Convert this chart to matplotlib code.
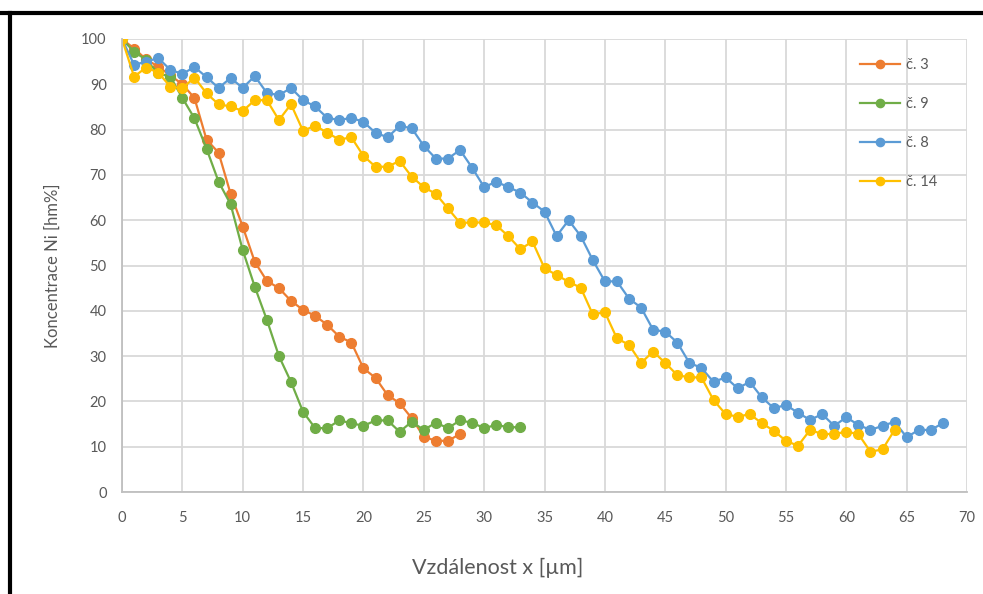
import matplotlib
matplotlib.use("Agg")
import matplotlib.pyplot as plt
from matplotlib.lines import Line2D

# distance [um] and Ni concentration [hm%]
x_c3 = list(range(0, 29))
ni_c3 = [100, 97.9, 95.5, 93.9, 92, 90, 87, 77.8, 74.9, 65.8,
         58.6, 50.8, 46.6, 45, 42.2, 40.2, 38.9, 36.9, 34.3, 33,
         27.3, 25.2, 21.4, 19.6, 16.3, 12.2, 11.3, 11.3, 12.8]

x_c9 = list(range(0, 34))
ni_c9 = [100, 97.2, 95.4, 92.4, 91.7, 87, 82.5, 75.8, 68.5, 63.5,
         53.4, 45.3, 38, 30, 24.3, 17.7, 14.1, 14.1, 15.8, 15.2,
         14.6, 15.8, 15.8, 13.3, 15.5, 13.7, 15.3, 14.1, 15.8, 15.3,
         14.1, 14.8, 14.3, 14.3]

x_c8 = list(range(0, 69))
ni_c8 = [100, 94.3, 95, 95.8, 93.2, 92.3, 93.8, 91.6, 89.2, 91.4,
         89.2, 91.8, 88.1, 87.6, 89.2, 86.5, 85.1, 82.6, 82.1, 82.6,
         81.7, 79.3, 78.3, 80.8, 80.3, 76.4, 73.6, 73.6, 75.5, 71.6,
         67.3, 68.5, 67.3, 66.1, 63.9, 61.9, 56.5, 60, 56.5, 51.2,
         46.5, 46.5, 42.7, 40.7, 35.8, 35.4, 33, 28.5, 27.4, 24.3,
         25.3, 22.9, 24.3, 20.9, 18.5, 19.2, 17.5, 15.9, 17.2, 14.6,
         16.5, 14.8, 13.7, 14.6, 15.5, 12.1, 13.7, 13.7, 15.2]

x_c14 = list(range(0, 65))
ni_c14 = [100, 91.7, 93.7, 92.6, 89.5, 89.1, 91.5, 88, 85.6, 85.1,
          84.1, 86.5, 86.5, 82.1, 85.6, 79.7, 80.9, 79.3, 77.8, 78.3,
          74.2, 71.8, 71.8, 73.1, 69.6, 67.3, 65.8, 62.6, 59.4, 59.5,
          59.5, 58.9, 56.5, 53.6, 55.3, 49.4, 47.9, 46.4, 45.1, 39.2,
          39.7, 33.9, 32.5, 28.5, 31, 28.5, 25.8, 25.3, 25.3, 20.3,
          17.2, 16.6, 17.2, 15.2, 13.5, 11.3, 10.2, 13.7, 12.8, 12.8,
          13.3, 12.8, 8.9, 9.4, 13.7]

series = [
    ("č. 3", x_c3, ni_c3, "#ED7D31"),
    ("č. 9", x_c9, ni_c9, "#70AD47"),
    ("č. 8", x_c8, ni_c8, "#5B9BD5"),
    ("č. 14", x_c14, ni_c14, "#FFC000"),
]

grey = "#595959"
grid = "#d9d9d9"
plt.rcParams["font.family"] = ["Lato", "DejaVu Sans"]

fig = plt.figure(figsize=(9.83, 5.94), dpi=100)
ax = fig.add_axes([122 / 983, 1 - 492 / 594, (967 - 122) / 983, (492 - 39) / 594])

for label, xs, ys, col in series:
    ax.plot(xs, ys, color=col, lw=1.6, marker="o", ms=7, mec=col, label=label)

ax.set_xlim(0, 70)
ax.set_ylim(0, 100)
ax.set_xticks(range(0, 71, 5))
ax.set_yticks(range(0, 101, 10))
ax.grid(True, color=grid, lw=1.3)
ax.set_axisbelow(True)
for side in ["top", "right"]:
    ax.spines[side].set_visible(False)
for side in ["left", "bottom"]:
    ax.spines[side].set_color("#bfbfbf")
    ax.spines[side].set_linewidth(1.3)
ax.tick_params(length=0, colors=grey, labelsize=10.5)
ax.tick_params(axis="y", pad=11)
ax.tick_params(axis="x", pad=14)

ax.set_xlabel("Vzdálenost x [µm]", fontsize=15.5, color=grey)
ax.xaxis.set_label_coords((498 - 122) / 845, -(568 - 492) / 453, transform=ax.transAxes)
ax.xaxis.label.set_va("center")
ax.set_ylabel("Koncentrace Ni [hm%]", fontsize=12, color=grey)
ax.yaxis.set_label_coords(-(122 - 53) / 845, 0.5, transform=ax.transAxes)
ax.yaxis.label.set_va("center")

leg = ax.legend(loc="upper left", bbox_to_anchor=(738 / 845, 1 - 19 / 453),
                frameon=False, fontsize=10.5, labelcolor=grey, handlelength=2.75,
                handletextpad=0.4, labelspacing=1.72, borderpad=0, borderaxespad=0,
                markerscale=0.85)

# black frame lines at the top and left of the picture
fig.add_artist(Line2D([0, 1], [1 - 13 / 594] * 2, color="black", lw=3))
fig.add_artist(Line2D([10 / 983] * 2, [0, 1 - 13 / 594], color="black", lw=3))

fig.savefig("out.png", dpi=100)
